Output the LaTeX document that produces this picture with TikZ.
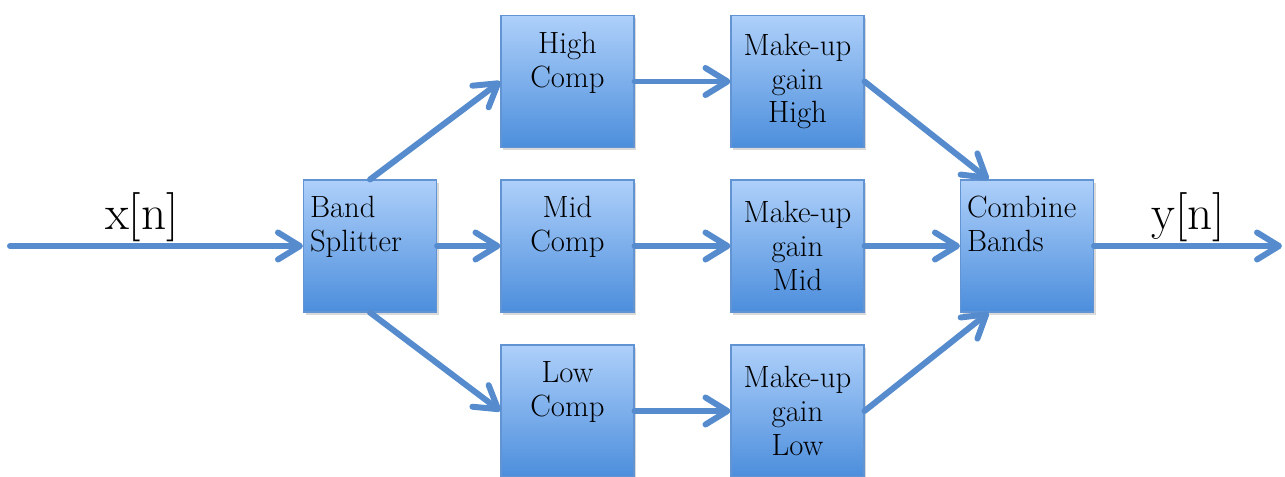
\documentclass[tikz,border=0pt]{standalone}
\usetikzlibrary{arrows.meta,shadows}
\definecolor{flowblue}{RGB}{86,140,206}
\definecolor{boxtop}{RGB}{174,208,250}
\definecolor{boxbot}{RGB}{76,142,220}
\definecolor{boxline}{RGB}{98,148,212}
\tikzset{
  box/.style={rectangle,draw=boxline,line width=0.6pt,top color=boxtop,bottom color=boxbot,
    minimum width=2.66cm,minimum height=2.64cm,inner sep=2pt,
    font=\fontsize{17.5}{19.3}\selectfont,
    drop shadow={opacity=0.3,shadow xshift=0.04cm,shadow yshift=-0.06cm}},
  flow/.style={draw=flowblue,line width=3.4pt,line cap=round,
    -{Straight Barb[length=4.4mm,width=5.4mm,round]}},
  sig/.style={font=\fontsize{28}{32}\selectfont,above,inner sep=1pt}
}
\begin{document}
\begin{tikzpicture}
      \useasboundingbox (0,0) rectangle (25.7,9.52);

      \coordinate (in)  at (0.2,4.6);
      \coordinate (out) at (25.64,4.6);

      \begin{scope}[every node/.style={box}]
        \node[align=left,text width=2.4cm]   (bs) at (7.4,4.6)   {Band\\Splitter\\\strut};
        \node[align=center]                  (hc) at (11.35,7.89) {High\\Comp\\\strut};
        \node[align=center]                  (mc) at (11.35,4.6)  {Mid\\Comp\\\strut};
        \node[align=center]                  (lc) at (11.35,1.30) {Low\\Comp\\\strut};
        \node[align=center]                  (gh) at (15.95,7.89) {Make-up\\gain\\High};
        \node[align=center]                  (gm) at (15.95,4.6)  {Make-up\\gain\\Mid};
        \node[align=center]                  (gl) at (15.95,1.30) {Make-up\\gain\\Low};
        \node[align=left,text width=2.4cm]   (cb) at (20.54,4.6)  {Combine\\Bands\\\strut};
      \end{scope}

      \begin{scope}[every edge/.style={flow}]
        \path (in)       edge node[sig,pos=0.45] {x[n]} (bs);
        \path (bs.north) edge (hc.west);
        \path (bs)       edge (mc);
        \path (bs.south) edge (lc.west);
        \path (hc)       edge (gh);
        \path (mc)       edge (gm);
        \path (lc)       edge (gl);
        \path (gh.east)  edge (cb.120);
        \path (gm)       edge (cb);
        \path (gl.east)  edge (cb.240);
        \path (cb)       edge node[sig] {y[n]} (out);
      \end{scope}

    \end{tikzpicture}
\end{document}
